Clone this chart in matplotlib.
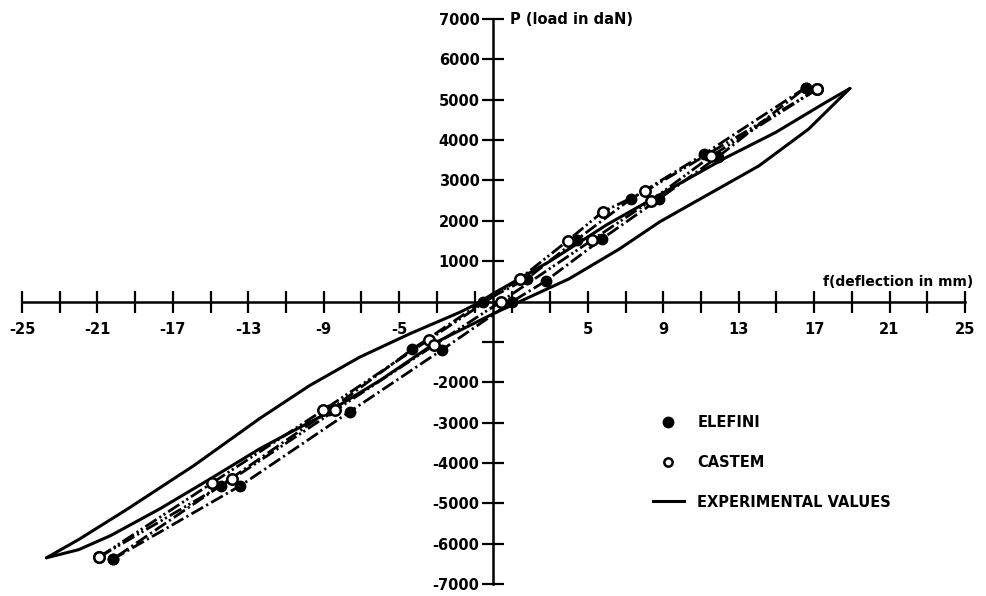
import matplotlib
matplotlib.use("Agg")
import matplotlib.pyplot as plt
from matplotlib.lines import Line2D

# ELEFINI (filled markers): unloading (upper) and reloading (lower) branches
elefini_up_x = [16.55, 11.16, 7.28, 4.41, 1.76, -0.55, -4.3, -8.7, -14.46, -20.2]
elefini_up_y = [5300, 3650, 2540, 1530, 560, 0, -1180, -2700, -4560, -6390]
elefini_lo_x = [-20.2, -13.44, -7.62, -2.71, 1.0, 2.79, 5.75, 8.8, 11.92, 16.55]
elefini_lo_y = [-6390, -4570, -2730, -1190, 0, 515, 1550, 2550, 3590, 5300]

# CASTEM (open markers)
castem_up_x = [17.16, 8.04, 5.78, 3.93, 1.38, -3.42, -9.05, -14.9, -20.9]
castem_up_y = [5260, 2730, 2220, 1505, 560, -945, -2700, -4490, -6330]
castem_lo_x = [-20.9, -13.88, -8.4, -3.17, 0.4, 5.22, 8.34, 11.52, 17.16]
castem_lo_y = [-6330, -4410, -2700, -1090, 0, 1520, 2495, 3595, 5260]

# experimental loop
exp_up_x = [18.9, 17.6, 14.96, 12.3, 9.67, 6.0, 3.0, 0.0, -0.9, -1.8, -4.44, -7.1,
            -9.74, -12.4, -15.9, -19.4, -22.0, -23.7]
exp_up_y = [5280, 4930, 4190, 3560, 2870, 1900, 1000, 200, -60, -270, -800, -1380,
            -2080, -2900, -4070, -5140, -5900, -6350]
exp_lo_x = [-23.7, -22.0, -20.3, -17.7, -15.0, -12.4, -10.6, -9.2, -6.0, -3.0, 0.0,
            1.4, 4.0, 6.67, 8.8, 10.5, 14.07, 16.7, 18.9]
exp_lo_y = [-6350, -6150, -5800, -5140, -4390, -3650, -3200, -2860, -1950, -1000, -300,
            0, 560, 1300, 1970, 2420, 3360, 4270, 5280]

x_ticks = list(range(-25, 26, 2))
x_labels = ['-25', '-21', '-17', '-13', '-9', '-5', '5', '9', '13', '17', '21', '25']
y_ticks = [7000, 6000, 5000, 4000, 3000, 2000, 1000, -1000, -2000, -3000, -4000, -5000, -6000, -7000]
y_labels = ['7000', '6000', '5000', '4000', '3000', '2000', '1000', '', '-2000', '-3000',
            '-4000', '-5000', '-6000', '-7000']

plt.rcParams['font.family'] = 'DejaVu Sans'
plt.rcParams['font.weight'] = 'bold'

fig = plt.figure(figsize=(9.86, 5.96), dpi=100)
ax = fig.add_axes([22 / 986, 12 / 596, 943 / 986, 565 / 596])
ax.set_xlim(-25, 25)
ax.set_ylim(-7000, 7000)

# axes crossing at the origin
for s in ['top', 'right']:
    ax.spines[s].set_visible(False)
ax.spines['left'].set_position('zero')
ax.spines['bottom'].set_position('zero')
ax.spines['left'].set_linewidth(1.8)
ax.spines['bottom'].set_linewidth(1.8)

ax.set_xticks(x_ticks)
lab = {int(v): v for v in x_labels}
ax.set_xticklabels([lab.get(t, '') for t in x_ticks])
ax.set_yticks(y_ticks)
ax.set_yticklabels(y_labels)
ax.tick_params(axis='both', direction='inout', length=16, width=1.6, labelsize=10.5)
ax.tick_params(axis='x', pad=7)
ax.tick_params(axis='y', pad=2)

dd = (4.8, 1.3, 0.8, 1.3)
ddd = (4.8, 1.2, 0.8, 1.0, 0.8, 1.2)

ax.plot(exp_up_x, exp_up_y, color='black', lw=2.2, solid_capstyle='round')
ax.plot(exp_lo_x, exp_lo_y, color='black', lw=2.2, solid_capstyle='round')

for xs, ys in [(elefini_up_x, elefini_up_y), (elefini_lo_x, elefini_lo_y)]:
    ax.plot(xs, ys, color='black', lw=2, dashes=dd)
    ax.plot(xs, ys, 'o', color='black', ms=7.5, zorder=4)
for xs, ys in [(castem_up_x, castem_up_y), (castem_lo_x, castem_lo_y)]:
    ax.plot(xs, ys, color='black', lw=2, dashes=ddd)
    ax.plot(xs, ys, 'o', mfc='white', mec='black', mew=1.8, ms=7.5, zorder=5)

ax.text(0.9, 7000, 'P (load in daN)', fontsize=10.5, fontweight='bold', ha='left', va='center')
ax.text(25.45, 480, 'f(deflection in mm)', fontsize=10, fontweight='bold', ha='right', va='center')

handles = [
    Line2D([], [], ls='none', marker='o', color='black', ms=7.5),
    Line2D([], [], ls='none', marker='o', mfc='white', mec='black', mew=1.8, ms=6),
    Line2D([], [], color='black', lw=2.2),
]
ax.legend(handles, ['ELEFINI', 'CASTEM', 'EXPERIMENTAL VALUES'], loc='upper left',
          bbox_to_anchor=(653 / 986, 1 - 415 / 596), bbox_transform=fig.transFigure,
          frameon=False, borderpad=0, borderaxespad=0, handlelength=2.1,
          handletextpad=0.95, labelspacing=1.7, prop={'size': 10.5, 'weight': 'bold'})

fig.savefig('out.png', dpi=100)
